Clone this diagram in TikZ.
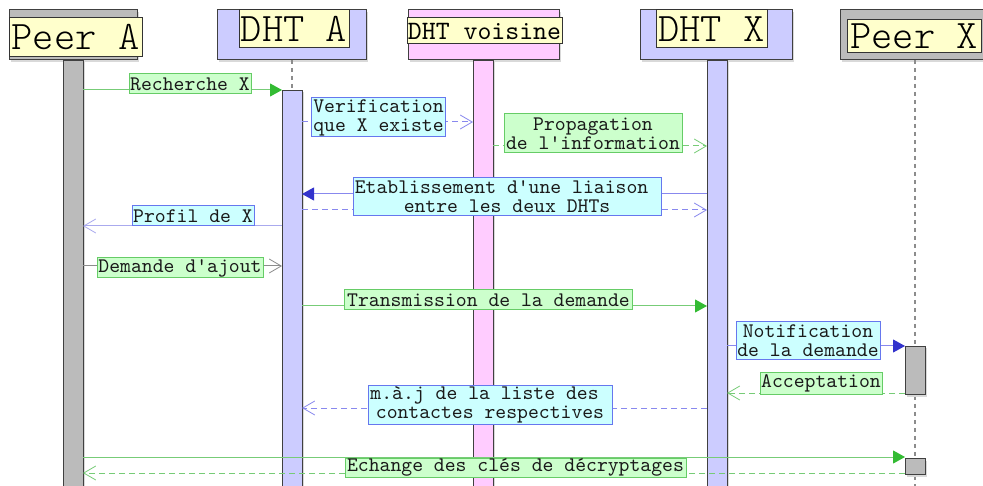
\documentclass[tikz,border=0pt]{standalone}
\usepackage{fontspec}
\setmonofont{lmmono10-regular.otf}
\newfontfamily\headfont{lmmonolt10-regular.otf}
\usetikzlibrary{arrows.meta,shadows}

\definecolor{labelgreen}{HTML}{CCFFCC}
\definecolor{edgegreen}{HTML}{66CC66}
\definecolor{linegreen}{HTML}{77CC77}
\definecolor{arrowgreen}{HTML}{33BB33}
\definecolor{labelcyan}{HTML}{CCFFFF}
\definecolor{edgeblue}{HTML}{6677EE}
\definecolor{lineblue}{HTML}{8888EE}
\definecolor{paleblue}{HTML}{AAAAEE}
\definecolor{arrowblue}{HTML}{3333CC}
\definecolor{notebg}{HTML}{FFFFCC}
\definecolor{greyfill}{HTML}{BBBBBB}
\definecolor{bluefill}{HTML}{CCCCFF}
\definecolor{pinkfill}{HTML}{FFCCFF}
\definecolor{inkgrey}{HTML}{1A1A1A}

\tikzset{
  boxshadow/.style={drop shadow={shadow xshift=2pt,shadow yshift=-2pt,opacity=1,fill=black!15}},
  headbox/.style={draw=black!75,line width=1pt,inner sep=0pt,boxshadow},
  headlabel/.style={fill=notebg,draw=black!80,line width=1pt,inner sep=0pt,
    text=black,font=\headfont\fontsize{40.5}{40}\selectfont},
  lifebar/.style={draw=black!75,line width=1pt,inner sep=0pt,minimum width=20pt,
    anchor=north,boxshadow},
  lifedash/.style={draw=black!45,line width=1.5pt,dash pattern=on 4pt off 4pt},
  msgtext/.style={font=\ttfamily\fontsize{20.7}{19}\selectfont,text=inkgrey,inner sep=0pt,
    align=center,line width=1pt},
  greenlabel/.style={msgtext,fill=labelgreen,draw=edgegreen},
  cyanlabel/.style={msgtext,fill=labelcyan,draw=edgeblue},
  msgline/.style={line width=1pt},
  dashline/.style={line width=1pt,dash pattern=on 6pt off 4pt},
  greentip/.style={-{Triangle[length=12pt,width=13pt,fill=arrowgreen,color=arrowgreen]}},
  bluetip/.style={-{Triangle[length=12pt,width=13pt,fill=arrowblue,color=arrowblue]}},
  opentip/.style={-{Straight Barb[length=12pt,width=14pt,line width=0.8pt]}},
}

\begin{document}
\begin{tikzpicture}[x=1pt,y=-1pt]
\clip (0,0) rectangle (983,486);
\fill[white] (0,0) rectangle (983,486);

% participant heads
\node[headbox,fill=greyfill,minimum width=128pt,minimum height=50pt] (headPA) at (73,35) {};
\node[headbox,fill=bluefill,minimum width=149pt,minimum height=50pt] (headDA) at (291.5,35) {};
\node[headbox,fill=pinkfill,minimum width=151pt,minimum height=50pt] (headDV) at (483.5,35) {};
\node[headbox,fill=bluefill,minimum width=152pt,minimum height=50pt] (headDX) at (716,35) {};
\node[headbox,fill=greyfill,minimum width=150pt,minimum height=50pt] (headPX) at (915,35) {};

\node[headlabel,minimum width=133pt,minimum height=39pt] (namePA) at (75.5,37.5) {Peer A};
\node[headlabel,minimum width=110pt,minimum height=38pt] (nameDA) at (294,29) {DHT A};
\node[headlabel,minimum width=155pt,minimum height=26pt,font=\ttfamily\fontsize{26.5}{26}\selectfont] (nameDV) at (484.5,31) {DHT voisine};
\node[headlabel,minimum width=111pt,minimum height=38pt] (nameDX) at (711.5,29) {DHT X};
\node[headlabel,minimum width=134pt,minimum height=33pt] (namePX) at (914,36.5) {Peer X};

% lifelines and activations
\node[lifebar,fill=greyfill,minimum height=440pt] (barPA) at (73,60) {};
\coordinate (dashDAtop) at (292,60);
\node[lifebar,fill=bluefill,minimum height=410pt] (barDA) at (292,90) {};
\draw[lifedash] (dashDAtop) -- (barDA.north);
\node[lifebar,fill=pinkfill,minimum height=440pt] (barDV) at (483,60) {};
\node[lifebar,fill=bluefill,minimum height=440pt] (barDX) at (717,60) {};
\coordinate (dashPXtop) at (915,60);
\coordinate (dashPXbot) at (915,490);
\draw[lifedash] (dashPXtop) -- (dashPXbot);
\node[lifebar,fill=greyfill,minimum height=48pt] (actPX1) at (915,346) {};
\node[lifebar,fill=greyfill,minimum height=16pt] (actPX2) at (915,458) {};

% message end points
\coordinate (m1a) at (83,90);    \coordinate (m1b) at (282,90);
\coordinate (m2a) at (302,122);  \coordinate (m2b) at (473,122);
\coordinate (m3a) at (493,146);  \coordinate (m3b) at (707,146);
\coordinate (m4a) at (707,194);  \coordinate (m4b) at (302,194);
\coordinate (m5a) at (302,210);  \coordinate (m5b) at (707,210);
\coordinate (m6a) at (282,226);  \coordinate (m6b) at (83,226);
\coordinate (m7a) at (83,266);   \coordinate (m7b) at (282,266);
\coordinate (m8a) at (302,306);  \coordinate (m8b) at (707,306);
\coordinate (m9a) at (727,346);  \coordinate (m9b) at (905,346);
\coordinate (m10a) at (905,393); \coordinate (m10b) at (727,393);
\coordinate (m11a) at (707,408); \coordinate (m11b) at (302,408);
\coordinate (m12a) at (83,457);  \coordinate (m12b) at (905,457);
\coordinate (m13a) at (905,473); \coordinate (m13b) at (83,473);

% messages
\draw[msgline,linegreen,greentip] (m1a) -- (m1b);
\draw[dashline,lineblue,opentip] (m2a) -- (m2b);
\draw[dashline,linegreen,opentip] (m3a) -- (m3b);
\draw[msgline,lineblue,bluetip] (m4a) -- (m4b);
\draw[dashline,lineblue,opentip] (m5a) -- (m5b);
\draw[msgline,paleblue,opentip] (m6a) -- (m6b);
\draw[msgline,black!45,opentip] (m7a) -- (m7b);
\draw[msgline,linegreen,greentip] (m8a) -- (m8b);
\draw[msgline,lineblue,bluetip] (m9a) -- (m9b);
\draw[dashline,linegreen,opentip] (m10a) -- (m10b);
\draw[dashline,lineblue,opentip] (m11a) -- (m11b);
\draw[msgline,linegreen,greentip] (m12a) -- (m12b);
\draw[dashline,linegreen,opentip] (m13a) -- (m13b);

% message labels
\node[greenlabel,minimum width=122pt,minimum height=20pt] (t1) at (190,84) {Recherche X};
\node[cyanlabel,minimum width=134pt,minimum height=39pt] (t2) at (378.5,117.5) {Verification\\que X existe};
\node[greenlabel,minimum width=178pt,minimum height=39pt] (t3) at (593,133.5) {Propagation\\de l'information};
\node[cyanlabel,minimum width=308pt,minimum height=38pt] (t4) at (507,197) {Etablissement d'une liaison\hphantom{x}\\entre les deux DHTs};
\node[cyanlabel,minimum width=122pt,minimum height=20pt] (t6) at (193,216) {Profil de X};
\node[greenlabel,minimum width=166pt,minimum height=20pt] (t7) at (180,268) {Demande d'ajout};
\node[greenlabel,minimum width=288pt,minimum height=20pt] (t8) at (488.5,300) {Transmission de la demande};
\node[cyanlabel,minimum width=144pt,minimum height=38pt] (t9) at (808,341) {Notification\\de la demande};
\node[greenlabel,minimum width=122pt,minimum height=21pt] (t10) at (821,383.5) {Acceptation};
\node[cyanlabel,minimum width=244pt,minimum height=38pt] (t11) at (490,405) {m.à.j de la liste des\hphantom{x}\\contactes respectives};
\node[greenlabel,minimum width=341pt,minimum height=19pt] (t12) at (515.5,467.5) {Echange des clés de décryptages};
\end{tikzpicture}
\end{document}
